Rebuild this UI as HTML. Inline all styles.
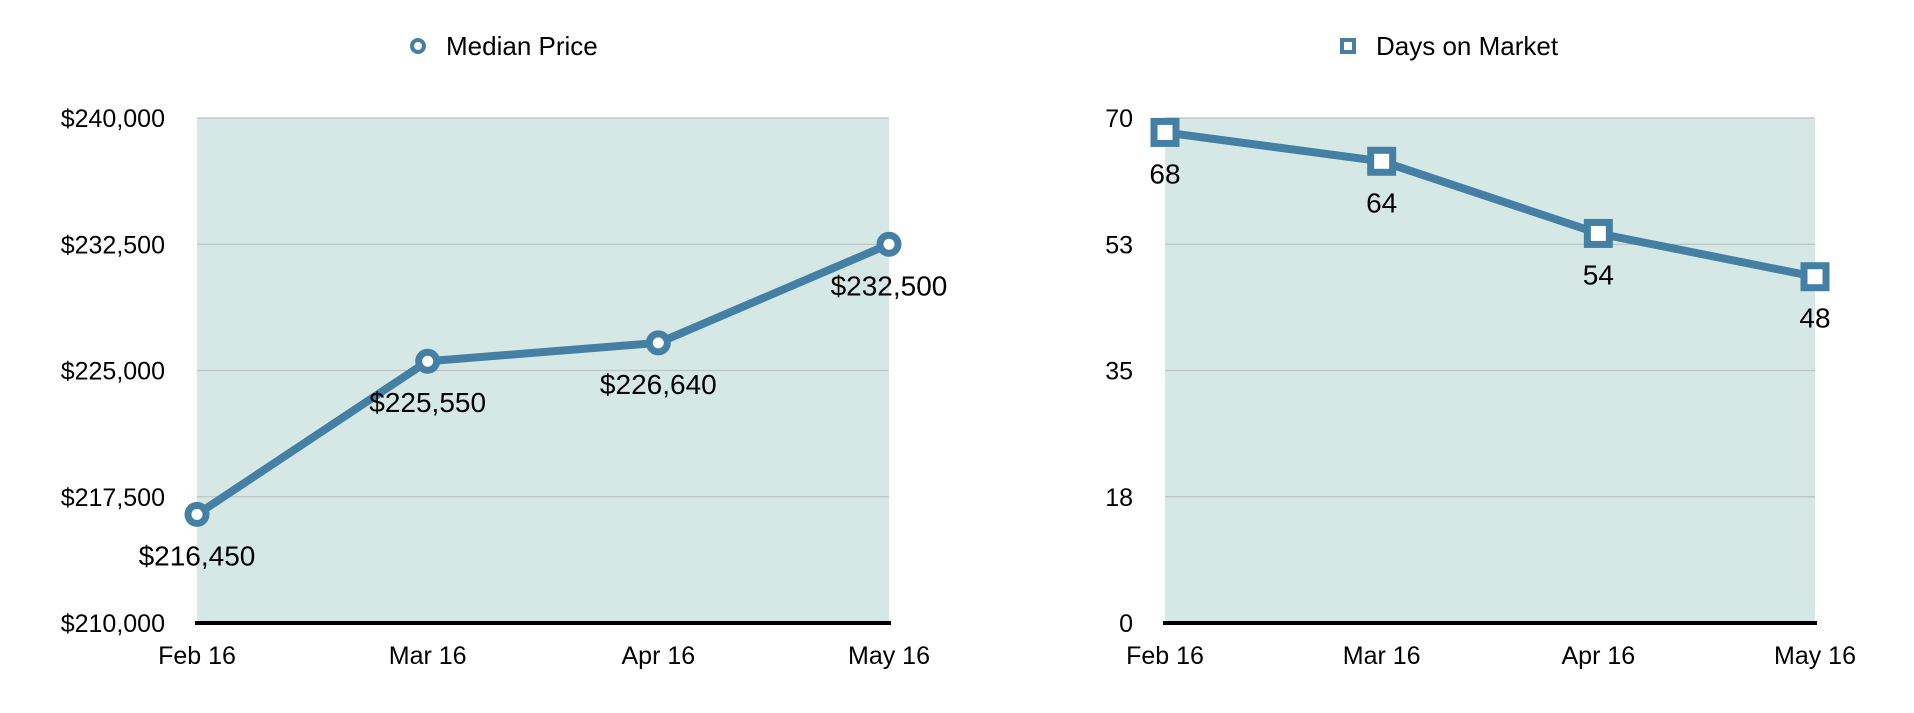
<!DOCTYPE html>
<html><head><meta charset="utf-8"><style>
body{margin:0;background:#fff;}
svg text{font-family:"Liberation Sans",sans-serif;fill:#000;}
</style></head><body>
<svg id="c" width="1914" height="708" xmlns="http://www.w3.org/2000/svg"></svg>
<script>
const categories=["Feb 16","Mar 16","Apr 16","May 16"];
const priceValues=[216450,225550,226640,232500];
const priceLabels=["$216,450","$225,550","$226,640","$232,500"];
const priceTicks=[210000,217500,225000,232500,240000];
const priceTickLabels=["$210,000","$217,500","$225,000","$232,500","$240,000"];
const daysValues=[68,64,54,48];
const daysLabels=["68","64","54","48"];
const daysTicks=[0,17.5,35,52.5,70];
const daysTickLabels=["0","18","35","53","70"];
const NS="http://www.w3.org/2000/svg";
const svg=document.getElementById('c');
function mk(t,a,p){const e=document.createElementNS(NS,t);for(const k in a)e.setAttribute(k,a[k]);(p||svg).appendChild(e);return e;}
function chart(o){
  const g=mk('g',{});
  
  
  const x=i=>o.x0+(o.x1-o.x0)*i/(categories.length-1);
  const y=v=>o.y1-(o.y1-o.y0)*(v-o.min)/(o.max-o.min);
  const bg=mk('rect',{x:o.x0,y:o.y0,width:o.x1-o.x0,height:o.y1-o.y0,fill:'#d5e8e6'},g);
  
  
  o.ticks.forEach((t,i)=>{
    if(i>0){const l=mk('line',{x1:o.x0,x2:o.x1,y1:y(t),y2:y(t),stroke:'#b9c4c3','stroke-width':1.2},g);
    
    }
    const tx=mk('text',{x:o.labX,y:y(t)+9,'text-anchor':'end','font-size':25},g);
    tx.textContent=o.tickLabels[i];
    
    
  });
  const ax=mk('line',{x1:o.x0-2,x2:o.x1+2,y1:o.y1,y2:o.y1,stroke:'#000','stroke-width':4},g);
  
  
  categories.forEach((c,i)=>{
    const t=mk('text',{x:x(i),y:664,'text-anchor':'middle','font-size':25},g);
    t.textContent=c;
    
    
  });
  const pts=o.vals.map((v,i)=>x(i)+','+y(v)).join(' ');
  const pl=mk('polyline',{points:pts,fill:'none',stroke:'#457fa3','stroke-width':8,'stroke-linejoin':'round'},g);
  
  
  o.vals.forEach((v,i)=>{
    let m;
    if(o.square){m=mk('rect',{x:x(i)-11,y:y(v)-11,width:22,height:22,fill:'#fff',stroke:'#457fa3','stroke-width':7},g);}
    else{m=mk('circle',{cx:x(i),cy:y(v),r:9,fill:'#fff',stroke:'#457fa3','stroke-width':7},g);}
    
    
    const t=mk('text',{x:x(i),y:y(v)+51,'text-anchor':'middle','font-size':28},g);
    t.textContent=o.labels[i];
    
    
  });
  const lg=mk('g',{},g);
  
  
  if(o.square)mk('rect',{x:o.legX-6,y:40,width:12,height:12,fill:'#fff',stroke:'#457fa3','stroke-width':4},lg);
  else mk('circle',{cx:o.legX,cy:46,r:6,fill:'#fff',stroke:'#457fa3','stroke-width':4},lg);
  const lt=mk('text',{x:o.legX+28,y:55,'font-size':26},lg);
  lt.textContent=o.title;
}
chart({name:'median-price-chart',title:'Median Price',x0:197,x1:889,y0:118,y1:623,min:210000,max:240000,vals:priceValues,labels:priceLabels,ticks:priceTicks,tickLabels:priceTickLabels,labX:165,legX:418,square:false});
chart({name:'days-on-market-chart',title:'Days on Market',x0:1165,x1:1815,y0:118,y1:623,min:0,max:70,vals:daysValues,labels:daysLabels,ticks:daysTicks,tickLabels:daysTickLabels,labX:1133,legX:1348,square:true});
</script>
</body></html>
